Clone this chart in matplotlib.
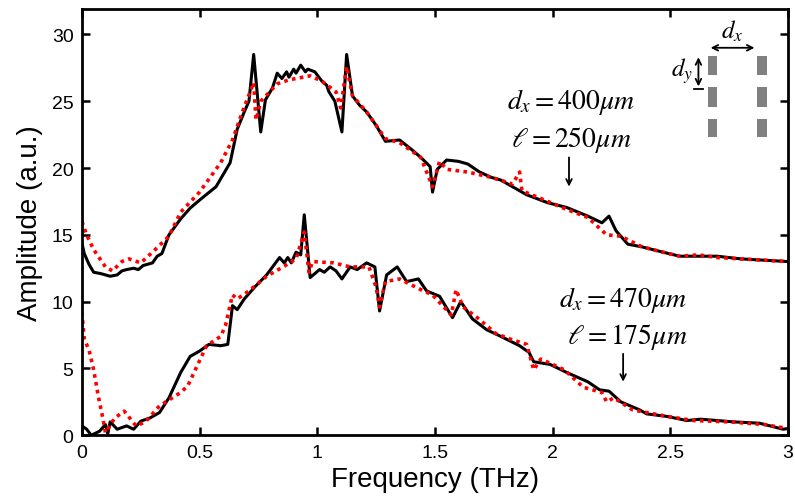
import matplotlib
matplotlib.use('Agg')
import matplotlib.pyplot as plt
from matplotlib.patches import Rectangle

# upper pair (dx = 400um)
f_up_meas = [0.0, 0.01, 0.03, 0.05, 0.08, 0.12, 0.15, 0.17, 0.19, 0.22, 0.24, 0.26, 0.3, 0.32, 0.34,
             0.37, 0.42, 0.46, 0.5, 0.57, 0.63, 0.66, 0.69, 0.71, 0.73, 0.76, 0.78, 0.81, 0.83,
             0.85, 0.87, 0.88, 0.9, 0.91, 0.93, 0.95, 0.96, 0.99, 1.02, 1.04, 1.05, 1.075, 1.105,
             1.125, 1.15, 1.18, 1.21, 1.25, 1.29, 1.35, 1.4, 1.44, 1.48, 1.49, 1.51, 1.55, 1.6,
             1.64, 1.69, 1.74, 1.78, 1.85, 1.89, 1.98, 2.06, 2.15, 2.21, 2.24, 2.27, 2.32, 2.38,
             2.47, 2.54, 2.62, 2.7, 2.8, 2.9, 3.0]
a_up_meas = [14.4, 13.6, 12.8, 12.2, 12.1, 11.9, 12.0, 12.3, 12.4, 12.5, 12.4, 12.7, 12.9, 13.4, 13.6,
             15.0, 16.2, 17.0, 17.6, 18.6, 20.4, 22.9, 24.2, 25.0, 28.5, 22.7, 25.1, 26.0, 27.1,
             26.7, 27.2, 26.8, 27.4, 27.1, 27.7, 27.2, 27.4, 27.2, 26.5, 26.2, 25.7, 25.0, 22.7,
             28.5, 25.4, 24.7, 24.2, 23.2, 22.0, 22.1, 21.4, 20.8, 20.1, 18.2, 19.9, 20.6, 20.5,
             20.3, 19.7, 19.3, 19.1, 18.4, 18.0, 17.4, 17.05, 16.4, 15.9, 16.4, 15.3, 14.3, 14.1,
             13.7, 13.4, 13.4, 13.4, 13.2, 13.1, 13.0]

f_up_sim = [0.0, 0.02, 0.05, 0.1, 0.13, 0.17, 0.2, 0.25, 0.3, 0.37, 0.42, 0.5, 0.59, 0.64, 0.68,
            0.73, 0.74, 0.76, 0.83, 0.88, 0.97, 1.02, 1.08, 1.1, 1.125, 1.15, 1.21, 1.29, 1.35,
            1.44, 1.49, 1.52, 1.55, 1.64, 1.74, 1.83, 1.86, 1.87, 1.98, 2.06, 2.15, 2.23, 2.29,
            2.38, 2.47, 2.54, 2.62, 2.7, 2.8, 2.9, 3.0]
a_up_sim = [16.0, 15.0, 13.9, 12.6, 12.3, 13.0, 13.2, 12.9, 13.7, 14.9, 16.7, 18.2, 20.4, 22.1, 24.1,
            26.4, 23.6, 25.0, 26.3, 26.6, 26.9, 26.5, 25.7, 24.5, 27.6, 25.4, 24.2, 22.2, 21.9,
            20.8, 18.6, 20.5, 19.9, 19.7, 19.3, 18.8, 19.7, 18.3, 17.5, 16.9, 16.3, 15.0, 14.9,
            14.1, 13.7, 13.4, 13.5, 13.3, 13.2, 13.1, 13.0]

# lower pair (dx = 470um)
f_lo_meas = [0.0, 0.02, 0.04, 0.075, 0.1, 0.11, 0.12, 0.15, 0.19, 0.22, 0.25, 0.29, 0.33, 0.37, 0.42,
             0.46, 0.5, 0.54, 0.59, 0.62, 0.64, 0.66, 0.69, 0.735, 0.785, 0.84, 0.86, 0.875, 0.89,
             0.91, 0.93, 0.945, 0.97, 1.01, 1.03, 1.055, 1.08, 1.105, 1.14, 1.17, 1.21, 1.245,
             1.265, 1.295, 1.34, 1.38, 1.43, 1.465, 1.52, 1.575, 1.61, 1.66, 1.72, 1.78, 1.86,
             1.9, 1.92, 1.99, 2.06, 2.15, 2.2, 2.24, 2.29, 2.37, 2.4, 2.49, 2.57, 2.63, 2.77, 2.88,
             2.98, 3.0]
a_lo_meas = [0.7, 0.45, 0.0, 0.3, 0.8, 0.1, 1.0, 0.45, 0.7, 0.45, 1.05, 1.3, 1.7, 2.8, 4.7,
             5.9, 6.3, 6.8, 6.7, 6.8, 9.7, 9.4, 10.2, 11.1, 12.0, 13.3, 12.9, 13.3, 12.9,
             13.7, 13.5, 16.5, 11.8, 12.4, 12.2, 12.6, 12.3, 11.7, 12.6, 12.4, 12.9, 12.6,
             9.3, 12.0, 12.6, 11.5, 11.7, 10.8, 10.4, 8.8, 10.0, 8.7, 7.9, 7.4, 6.7,
             6.2, 5.5, 5.3, 4.7, 4.0, 3.4, 3.3, 2.5, 1.9, 1.6, 1.4, 1.1, 1.2, 1.0, 0.9,
             0.45, 0.5]

f_lo_sim = [0.0, 0.01, 0.03, 0.05, 0.07, 0.09, 0.1, 0.14, 0.18, 0.23, 0.27, 0.33, 0.42, 0.45, 0.53,
            0.59, 0.61, 0.64, 0.66, 0.71, 0.785, 0.855, 0.91, 0.945, 0.965, 0.98, 1.07, 1.14, 1.22,
            1.25, 1.265, 1.29, 1.35, 1.44, 1.49, 1.57, 1.59, 1.62, 1.68, 1.76, 1.82, 1.89, 1.92,
            1.95, 2.05, 2.13, 2.21, 2.23, 2.26, 2.34, 2.49, 2.6, 2.75, 2.9, 3.0]
a_lo_sim = [9.2, 7.2, 6.4, 4.9, 2.9, 1.2, 0.2, 1.3, 1.8, 0.7, 1.0, 2.2, 3.2, 3.7, 6.7,
            7.4, 8.2, 10.5, 10.2, 10.8, 11.9, 12.6, 13.2, 15.2, 12.2, 13.0, 12.9, 12.6, 12.6,
            11.1, 9.6, 11.5, 11.7, 10.9, 10.5, 9.0, 10.9, 9.6, 8.8, 7.6, 7.2, 6.8, 4.9,
            5.7, 4.9, 3.6, 3.2, 2.5, 2.8, 1.9, 1.4, 1.1, 1.0, 0.8, 0.5]

xticks = [0, 0.5, 1, 1.5, 2, 2.5, 3]
xticklabels = ['0', '0.5', '1', '1.5', '2', '2.5', '3']
yticks = [0, 5, 10, 15, 20, 25, 30]

plt.rcParams['font.family'] = ['Liberation Sans', 'DejaVu Sans']
plt.rcParams['mathtext.fontset'] = 'stix'

fig = plt.figure(figsize=(7.95, 5.02), dpi=100)
ax = fig.add_axes([0.103, 0.131, 0.888, 0.849])

ax.plot(f_up_meas, a_up_meas, color='black', lw=2.2)
ax.plot(f_up_sim, a_up_sim, color='red', lw=2.6, linestyle=(0, (1, 1.2)))
ax.plot(f_lo_meas, a_lo_meas, color='black', lw=2.2)
ax.plot(f_lo_sim, a_lo_sim, color='red', lw=2.6, linestyle=(0, (1, 1.2)))

ax.set_xlim(0, 3)
ax.set_ylim(0, 31.9)
ax.set_xticks(xticks)
ax.set_xticklabels(xticklabels)
ax.set_yticks(yticks)
ax.tick_params(direction='in', length=6, width=1.8, labelsize=14, top=True, right=True, pad=6)
for s in ax.spines.values():
    s.set_linewidth(2)
ax.set_xlabel('Frequency (THz)', fontsize=20, labelpad=4)
ax.set_ylabel('Amplitude (a.u.)', fontsize=20, labelpad=6)

# annotations
ax.text(2.08, 25.0, r'$d_x = 400\mu m$', fontsize=20, ha='center', va='center')
ax.text(2.08, 22.2, r'$\ell = 250\mu m$', fontsize=20, ha='center', va='center')
ax.annotate('', xy=(2.07, 18.4), xytext=(2.07, 21.0),
            arrowprops=dict(arrowstyle='->', color='black', lw=1.3))
ax.text(2.30, 10.2, r'$d_x = 470\mu m$', fontsize=20, ha='center', va='center')
ax.text(2.32, 7.4, r'$\ell = 175\mu m$', fontsize=20, ha='center', va='center')
ax.annotate('', xy=(2.3, 3.8), xytext=(2.3, 6.3),
            arrowprops=dict(arrowstyle='->', color='black', lw=1.3))

# inset sketch of the rod array
for xr in [2.66, 2.87]:
    for y0, y1 in [(27.0, 28.4), (24.6, 26.1), (22.3, 23.7)]:
        ax.add_patch(Rectangle((xr, y0), 0.04, y1 - y0, color='#808080', lw=0))
ax.annotate('', xy=(2.66, 29.0), xytext=(2.87, 29.0),
            arrowprops=dict(arrowstyle='<->', color='black', lw=1.3))
ax.text(2.765, 30.3, r'$d_x$', fontsize=18, ha='center', va='center')
ax.annotate('', xy=(2.62, 28.5), xytext=(2.62, 25.9),
            arrowprops=dict(arrowstyle='<->', color='black', lw=1.3))
ax.plot([2.6, 2.64], [25.9, 25.9], color='black', lw=1.3)
ax.text(2.55, 27.3, r'$d_y$', fontsize=18, ha='center', va='center')

plt.savefig('out.png', dpi=100)
